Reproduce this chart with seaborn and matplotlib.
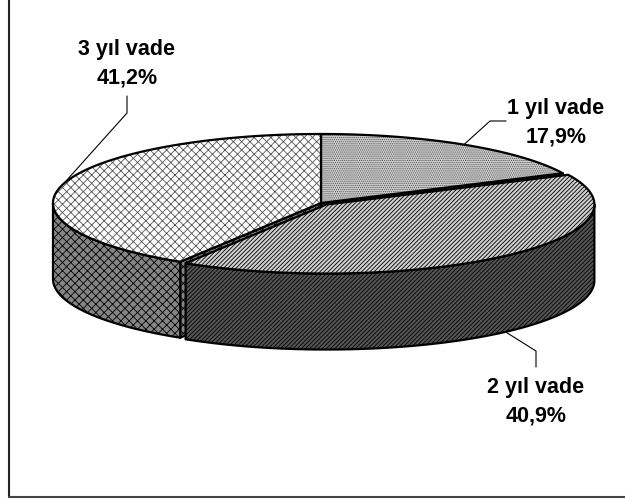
import numpy as np
import matplotlib
matplotlib.use('Agg')
import matplotlib.pyplot as plt
from matplotlib.patches import Polygon
import seaborn as sns

# data
labels = ['1 yıl vade', '2 yıl vade', '3 yıl vade']
shares = [17.9, 40.9, 41.2]
pct_text = ['17,9%', '40,9%', '41,2%']
explode = [0.0, 0.03, 0.0]

sns.set_theme(style='white')
plt.rcParams['font.family'] = ['Liberation Sans', 'DejaVu Sans']
plt.rcParams['hatch.linewidth'] = 0.6

fig = plt.figure(figsize=(6.25, 5.02), dpi=100)
ax = fig.add_axes([0, 0, 1, 1])
ax.set_xlim(0, 625)
ax.set_ylim(502, 0)
ax.axis('off')

# pie geometry (pixels), tilted 3d look
cx, cy, a, b, depth = 321, 204, 268, 69, 76

top_style = [dict(fc='#cecece', ec='#555555', hatch='........'),
             dict(fc='#d0d0d0', ec='black', hatch='////////'),
             dict(fc='white', ec='#555555', hatch='xxxx')]
side_style = [dict(fc='#555555', ec='black', hatch='........'),
              dict(fc='#555555', ec='black', hatch='////////'),
              dict(fc='#858585', ec='black', hatch='xxxx')]

# label layout: text centre + leader elbow points
label_pos = [(556, 123), (536, 402), (127, 64)]
leader = [[(506, 122), (490, 122)],
          [(536, 368), (536, 352)],
          [(127, 97), (127, 114)]]


def pt(t, r, ox, oy, dz=0):
    t = np.radians(t)
    return cx + ox + a * r * np.sin(t), cy + oy - b * r * np.cos(t) + dz


frac = np.array(shares) / np.sum(shares) * 360
ends = np.cumsum(frac)
starts = ends - frac

walls = []
tops = []
for i in range(len(shares)):
    t0, t1 = starts[i], ends[i]
    mid = (t0 + t1) / 2
    ox = a * explode[i] * np.sin(np.radians(mid))
    oy = -b * explode[i] * np.cos(np.radians(mid))
    c = (cx + ox, cy + oy)
    arc = np.linspace(t0, t1, 120)
    top = [c] + [pt(t, 1, ox, oy) for t in arc]
    tops.append((top, i))

    ws = []
    if np.sin(np.radians(t0)) < -1e-6:
        e0 = pt(t0, 1, ox, oy)
        ws.append([c, e0, (e0[0], e0[1] + depth), (c[0], c[1] + depth)])
    if np.sin(np.radians(t1)) > 1e-6:
        e1 = pt(t1, 1, ox, oy)
        ws.append([c, e1, (e1[0], e1[1] + depth), (c[0], c[1] + depth)])
    f0, f1 = max(t0, 90), min(t1, 270)
    if f1 > f0:
        fa = np.linspace(f0, f1, 120)
        up = [pt(t, 1, ox, oy) for t in fa]
        lo = [pt(t, 1, ox, oy, depth) for t in fa[::-1]]
        ws.append(up + lo)
    walls.append((explode[i], [(w, i) for w in ws]))

# painter's order: still slices, then exploded ones, then the tops
z = 1
for _, ws in sorted(walls, key=lambda w: w[0]):
    for poly, i in ws:
        s = side_style[i]
        ax.add_patch(Polygon(poly, closed=True, facecolor=s['fc'], edgecolor=s['ec'],
                             hatch=s['hatch'], lw=0, zorder=z))
        ax.add_patch(Polygon(poly, closed=True, fill=False, edgecolor='black',
                             lw=1.6, joinstyle='round', zorder=z + 0.5))
        z += 1
for poly, i in tops:
    s = top_style[i]
    ax.add_patch(Polygon(poly, closed=True, facecolor=s['fc'], edgecolor=s['ec'],
                         hatch=s['hatch'], lw=0, zorder=z))
    ax.add_patch(Polygon(poly, closed=True, fill=False, edgecolor='black',
                         lw=1.6, joinstyle='round', zorder=z + 0.5))
    z += 1

# labels with leader lines
for i in range(len(shares)):
    mid = (starts[i] + ends[i]) / 2
    ox = a * explode[i] * np.sin(np.radians(mid))
    oy = -b * explode[i] * np.cos(np.radians(mid))
    dz = depth if np.cos(np.radians(mid)) < 0 else 0
    tgt = pt(mid, 1, ox, oy, dz)
    xs = [p[0] for p in leader[i]] + [tgt[0]]
    ys = [p[1] for p in leader[i]] + [tgt[1]]
    ax.plot(xs, ys, color='black', lw=0.8, zorder=z + 5)
    ax.text(label_pos[i][0], label_pos[i][1], f'{labels[i]}\n{pct_text[i]}',
            ha='center', va='center', fontsize=15.5, fontweight='bold',
            linespacing=1.45, color='black', zorder=z + 6)

# frame lines (left and bottom only)
ax.plot([9, 9], [0, 498], color='#222222', lw=1.5, zorder=z + 7)
ax.plot([9, 625], [498, 498], color='#444444', lw=1.5, zorder=z + 7)

fig.savefig('out.png', dpi=100)
